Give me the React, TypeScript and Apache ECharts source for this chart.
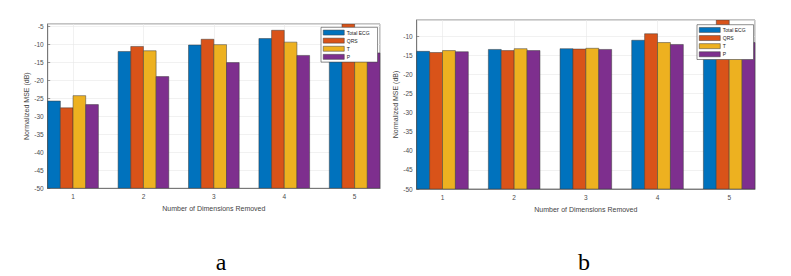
import React, { useEffect, useRef } from "react";
import * as echarts from "echarts";

const dims = [1, 2, 3, 4, 5];
const seriesNames = ["Total ECG", "QRS", "T", "P"];
const colors = ["#0072BD", "#D95319", "#EDB120", "#7E2F8E"];

// panel a
const aTotal = [-25.7, -11.9, -10.1, -8.3, -11.5];
const aQRS = [-27.6, -10.5, -8.5, -6.0, -3.5];
const aT = [-24.2, -11.7, -10.0, -9.3, -12.0];
const aP = [-26.7, -18.9, -15.0, -13.0, -12.3];

// panel b
const bTotal = [-14.0, -13.5, -13.3, -11.1, -12.0];
const bQRS = [-14.3, -13.8, -13.4, -9.4, -5.0];
const bT = [-13.8, -13.3, -13.2, -11.7, -12.5];
const bP = [-14.1, -13.8, -13.5, -12.2, -11.7];

const yBase = -50;
const xTitle = "Number of Dimensions Removed";
const yTitle = "Normalized MSE (dB)";
const panelLabels = ["a", "b"];

const X_MIN = 0.64;
const X_MAX = 5.36;
const BAR_UNITS = 0.18;

export default function App() {
  const ref = useRef<HTMLDivElement>(null);
  useEffect(() => {
    if (!ref.current) return;
    const chart = echarts.init(ref.current, null, { renderer: "svg" });
    const grids = [
      { left: 47.7, top: 24, width: 332.3, height: 164.3, yMax: -4.25, nameGapY: 18 },
      { left: 416.7, top: 20, width: 338.3, height: 169, yMax: -5.8, nameGapY: 16.5 },
    ];
    const panels = [
      [aTotal, aQRS, aT, aP],
      [bTotal, bQRS, bT, bP],
    ];
    const font = "'Liberation Sans', Arial, sans-serif";
    const tickColor = "#4d4d4d";
    const series: any[] = [];
    panels.forEach((vals, gi) => {
      vals.forEach((arr, si) => {
        series.push({
          type: "custom",
          name: seriesNames[si],
          xAxisIndex: gi,
          yAxisIndex: gi,
          clip: true,
          data: dims.map((d, i) => [d, arr[i]]),
          itemStyle: { color: colors[si], borderColor: "#3a3a3a", borderWidth: 0.5 },
          encode: { x: 0, y: 1 },
          renderItem: (params: any, api: any) => {
            const x = api.value(0);
            const y = api.value(1);
            const pBase = api.coord([x, yBase]);
            const pTop = api.coord([x, y]);
            const bw = api.size([BAR_UNITS, 0])[0];
            const rect = echarts.graphic.clipRectByRect(
              {
                x: pTop[0] + (si - 2) * bw,
                y: pTop[1],
                width: bw,
                height: pBase[1] - pTop[1],
              },
              {
                x: params.coordSys.x,
                y: params.coordSys.y,
                width: params.coordSys.width,
                height: params.coordSys.height,
              }
            );
            if (!rect) return null;
            return {
              type: "rect",
              shape: rect,
              style: { fill: colors[si], stroke: "#3a3a3a", lineWidth: 0.5 },
            };
          },
        });
      });
    });
    const legendBase = {
      orient: "vertical",
      itemWidth: 21,
      itemHeight: 5,
      itemGap: 2.6,
      padding: [2.5, 8, 2.5, 2],
      backgroundColor: "#ffffff",
      borderColor: "#444",
      borderWidth: 0.6,
      data: seriesNames,
      icon: "rect",
      itemStyle: { borderColor: "#3a3a3a", borderWidth: 0.5 },
      textStyle: { fontSize: 5, color: "#222", fontFamily: font, padding: [0, 0, 0, -2.5] },
    };
    chart.setOption({
      animation: false,
      backgroundColor: "#ffffff",
      grid: grids.map((g) => ({
        left: g.left,
        top: g.top,
        width: g.width,
        height: g.height,
        show: true,
        borderColor: "#555",
        borderWidth: 0.7,
        backgroundColor: "#ffffff",
        containLabel: false,
      })),
      legend: [
        { ...legendBase, left: 321, top: 27.3, z: 10 },
        { ...legendBase, left: 697, top: 24.7, z: 10 },
      ],
      xAxis: grids.map((g, gi) => ({
        type: "value",
        gridIndex: gi,
        min: X_MIN,
        max: X_MAX,
        name: xTitle,
        nameLocation: "middle",
        nameGap: 16.5,
        nameTextStyle: { fontSize: 7, color: "#444", fontFamily: font },
        axisLine: { show: true, lineStyle: { color: "#555", width: 0.7 } },
        axisTick: { show: false },
        axisLabel: {
          fontSize: 6.5,
          color: tickColor,
          fontFamily: font,
          margin: 4.5,
          showMinLabel: false,
          showMaxLabel: false,
          formatter: (v: number) => (Math.abs(v - Math.round(v)) < 1e-6 ? String(Math.round(v)) : ""),
        },
        splitLine: { show: true, lineStyle: { color: "#e8e8e8", width: 0.6 } },
      })),
      yAxis: grids.map((g, gi) => ({
        type: "value",
        gridIndex: gi,
        min: -50,
        max: g.yMax,
        interval: 5,
        name: yTitle,
        nameLocation: "middle",
        nameGap: g.nameGapY,
        nameTextStyle: { fontSize: 7, color: "#444", fontFamily: font },
        axisLine: { show: true, lineStyle: { color: "#555", width: 0.7 } },
        axisTick: { show: true, inside: true, length: 2.5, lineStyle: { color: "#555", width: 0.6 } },
        axisLabel: {
          fontSize: 6.5,
          color: tickColor,
          fontFamily: font,
          margin: 4,
          showMaxLabel: false,
        },
        splitLine: { show: true, lineStyle: { color: "#e8e8e8", width: 0.6 } },
      })),
      graphic: panelLabels.map((t, i) => ({
        type: "text",
        x: i === 0 ? 221 : 584,
        y: 262,
        style: {
          text: t,
          fontSize: 24,
          fontFamily: "'Liberation Serif', 'Times New Roman', serif",
          fill: "#000",
          textAlign: "center",
          textVerticalAlign: "middle",
        },
      })),
      series,
    });
    return () => chart.dispose();
  }, []);
  return (
    <div
      ref={ref}
      style={{ position: "fixed", left: 0, top: 0, width: 791, height: 276, background: "#fff" }}
    />
  );
}
